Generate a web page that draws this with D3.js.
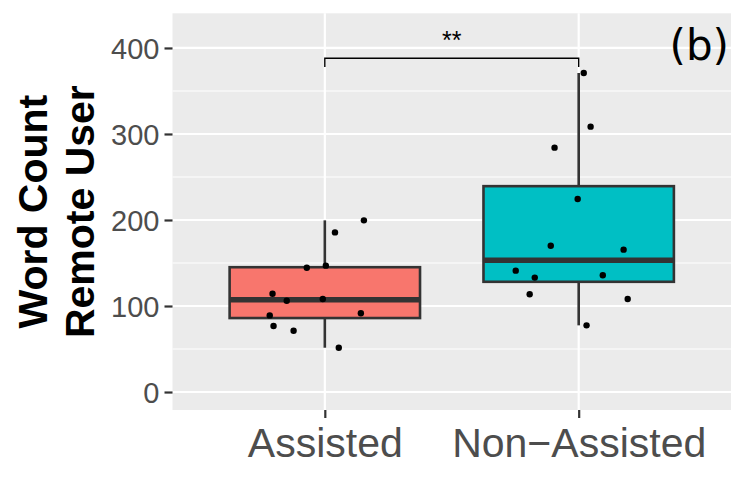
<!DOCTYPE html>
<html>
<head>
<meta charset="utf-8">
<script src="https://cdn.jsdelivr.net/npm/d3@7"></script>
<style>
  body { margin: 0; background: #fff; }
  text { font-family: "Liberation Sans", Arial, Helvetica, sans-serif; }
</style>
</head>
<body>
<svg id="chart"></svg>
<script>
// Data
const groups = ['Assisted', 'Non-Assisted'];
const groupLabels = ['Assisted', 'Non\u2212Assisted'];
const fills = ['#F8766D', '#00BFC4'];
const assistedValues = [199.6, 185.6, 144.5, 146.9, 114.3, 106.2, 108.1, 89.1, 91.5, 76.7, 71.3, 51.5];
const assistedJitter = [0.154, 0.040, -0.071, 0.004, -0.206, -0.150, -0.008, -0.217, 0.142, -0.202, -0.123, 0.055];
const nonAssistedValues = [370.9, 308.5, 284.1, 224.4, 170.1, 165.5, 141.1, 133.0, 135.7, 113.6, 108.1, 77.5];
const nonAssistedJitter = [0.020, 0.047, -0.095, -0.004, -0.110, 0.177, -0.248, -0.173, 0.095, -0.193, 0.193, 0.031];
const yTicks = [0, 100, 200, 300, 400];
const yMinor = [50, 150, 250, 350];
const bracketY = 388;
const bracketDrop = 10;

// Set dimensions
const width = 747;
const height = 480;
const panel = { left: 172.5, right: 731, top: 13.3, bottom: 410 };

const svg = d3.select('#chart')
  .attr('width', width)
  .attr('height', height);

// Scales
const x = d3.scalePoint()
  .domain(groups)
  .range([panel.left, panel.right])
  .padding(0.6);
const step = x.step();

const y = d3.scaleLinear()
  .domain([-20.9, 440.3])
  .range([panel.bottom, panel.top]);

// Panel background
svg.append('rect')
  .attr('x', panel.left)
  .attr('y', panel.top)
  .attr('width', panel.right - panel.left)
  .attr('height', panel.bottom - panel.top)
  .attr('fill', '#EBEBEB');

// Grid lines
svg.selectAll('.minor')
  .data(yMinor)
  .enter()
  .append('line')
  .attr('x1', panel.left).attr('x2', panel.right)
  .attr('y1', d => y(d)).attr('y2', d => y(d))
  .attr('stroke', '#fff').attr('stroke-width', 1.1);

svg.selectAll('.major')
  .data(yTicks)
  .enter()
  .append('line')
  .attr('x1', panel.left).attr('x2', panel.right)
  .attr('y1', d => y(d)).attr('y2', d => y(d))
  .attr('stroke', '#fff').attr('stroke-width', 2.2);

svg.selectAll('.vmajor')
  .data(groups)
  .enter()
  .append('line')
  .attr('x1', d => x(d)).attr('x2', d => x(d))
  .attr('y1', panel.top).attr('y2', panel.bottom)
  .attr('stroke', '#fff').attr('stroke-width', 2.2);

// Box stats
const sets = [
  { key: groups[0], values: assistedValues, jitter: assistedJitter, fill: fills[0] },
  { key: groups[1], values: nonAssistedValues, jitter: nonAssistedJitter, fill: fills[1] }
];
sets.forEach(s => {
  const sorted = s.values.slice().sort(d3.ascending);
  s.q1 = d3.quantile(sorted, 0.25);
  s.med = d3.quantile(sorted, 0.5);
  s.q3 = d3.quantile(sorted, 0.75);
  const iqr = s.q3 - s.q1;
  s.lo = d3.min(sorted.filter(v => v >= s.q1 - 1.5 * iqr));
  s.hi = d3.max(sorted.filter(v => v <= s.q3 + 1.5 * iqr));
});

const boxW = 0.75 * step;
const box = svg.selectAll('.box')
  .data(sets)
  .enter()
  .append('g');

box.append('line')
  .attr('x1', d => x(d.key)).attr('x2', d => x(d.key))
  .attr('y1', d => y(d.hi)).attr('y2', d => y(d.q3))
  .attr('stroke', '#333').attr('stroke-width', 2.6);

box.append('line')
  .attr('x1', d => x(d.key)).attr('x2', d => x(d.key))
  .attr('y1', d => y(d.q1)).attr('y2', d => y(d.lo))
  .attr('stroke', '#333').attr('stroke-width', 2.6);

box.append('rect')
  .attr('x', d => x(d.key) - boxW / 2)
  .attr('y', d => y(d.q3))
  .attr('width', boxW)
  .attr('height', d => y(d.q1) - y(d.q3))
  .attr('fill', d => d.fill)
  .attr('stroke', '#333')
  .attr('stroke-width', 2.6);

box.append('line')
  .attr('x1', d => x(d.key) - boxW / 2).attr('x2', d => x(d.key) + boxW / 2)
  .attr('y1', d => y(d.med)).attr('y2', d => y(d.med))
  .attr('stroke', '#333').attr('stroke-width', 5.5);

// Jittered points
sets.forEach(s => {
  svg.selectAll(null)
    .data(s.values)
    .enter()
    .append('circle')
    .attr('cx', (d, i) => x(s.key) + s.jitter[i] * step)
    .attr('cy', d => y(d))
    .attr('r', 3.2)
    .attr('fill', '#000');
});

// Significance bracket
const bx1 = x(groups[0]);
const bx2 = x(groups[1]);
svg.append('path')
  .attr('d', `M${bx1},${y(bracketY - bracketDrop)}V${y(bracketY)}H${bx2}V${y(bracketY - bracketDrop)}`)
  .attr('fill', 'none')
  .attr('stroke', '#000')
  .attr('stroke-width', 1.4);

svg.append('text')
  .attr('x', (bx1 + bx2) / 2)
  .attr('y', 49)
  .attr('text-anchor', 'middle')
  .attr('font-size', 25)
  .attr('fill', '#000')
  .text('**');

// Panel label
svg.append('text')
  .attr('x', 729)
  .attr('y', 60)
  .attr('text-anchor', 'end')
  .attr('font-size', 42)
  .style('font-family', '"DejaVu Sans", sans-serif')
  .attr('fill', '#000')
  .text('(b)');

// Axes
const yAxis = svg.append('g')
  .attr('transform', `translate(${panel.left},0)`)
  .call(d3.axisLeft(y).tickValues(yTicks).tickSize(8).tickPadding(5));

const xAxis = svg.append('g')
  .attr('transform', `translate(0,${panel.bottom})`)
  .call(d3.axisBottom(x).tickSize(8).tickPadding(6).tickFormat((d, i) => groupLabels[i]));

[yAxis, xAxis].forEach(a => {
  a.select('.domain').remove();
  a.selectAll('.tick line').attr('stroke', '#333').attr('stroke-width', 2.2);
  a.selectAll('.tick text').attr('fill', '#4D4D4D').style('font-family', '"Liberation Sans", Arial, sans-serif');
});
yAxis.selectAll('.tick text').attr('font-size', 29).attr('dy', '0.36em');
xAxis.selectAll('.tick text').attr('font-size', 41).attr('dy', '0.8em');

// Y title
const ytitle = svg.append('text')
  .attr('transform', `translate(0,${(panel.top + panel.bottom) / 2}) rotate(-90)`)
  .attr('text-anchor', 'middle')
  .attr('font-size', 41)
  .attr('font-weight', 'bold')
  .attr('fill', '#000');
ytitle.append('tspan').attr('x', 0).attr('y', 47).text('Word Count');
ytitle.append('tspan').attr('x', 0).attr('y', 94).text('Remote User');
</script>
</body>
</html>
